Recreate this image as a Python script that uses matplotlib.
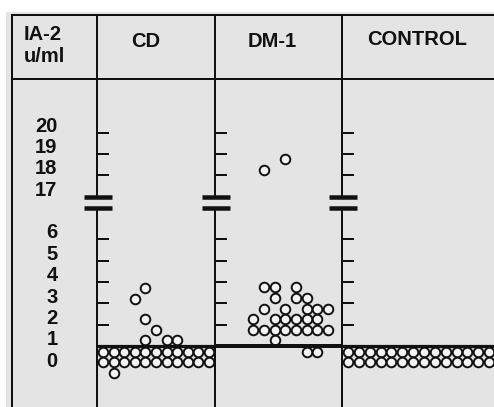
import numpy as np
import matplotlib
matplotlib.use("Agg")
import matplotlib.pyplot as plt
from matplotlib import transforms
from matplotlib.patches import Rectangle
from matplotlib.ticker import NullLocator

plt.rcParams['font.family'] = ['Liberation Sans', 'DejaVu Sans']

# ---------------- data ----------------
groups = ["CD", "DM-1", "CONTROL"]
tick_values = [20, 19, 18, 17, 6, 5, 4, 3, 2, 1, 0]
tick_labels = ["20", "19", "18", "17", "6", "5", "4", "3", "2", "1", "0"]
tick_marks = [2, 3, 4, 5, 6, 18, 19, 20]
threshold = 1.0

# IA-2 values (u/ml) and stacking column of each dot
cd_values = [3.72, 3.20, 2.26, 1.75, 1.28, 1.28, 1.28,
             0.72, 0.72, 0.72, 0.72, 0.72, 0.72, 0.72, 0.72, 0.72, 0.72, 0.72,
             0.25, 0.25, 0.25, 0.25, 0.25, 0.25, 0.25, 0.25, 0.25, 0.25, 0.25,
             -0.26]
cd_cols = [4, 3, 4, 5, 4, 6, 7,
           0, 1, 2, 3, 4, 5, 6, 7, 8, 9, 10,
           0, 1, 2, 3, 4, 5, 6, 7, 8, 9, 10,
           1]

dm_values = [18.76, 18.24,
             3.76, 3.76, 3.76,
             3.25, 3.25, 3.25,
             2.73, 2.73, 2.73, 2.73, 2.73,
             2.26, 2.26, 2.26, 2.26, 2.26, 2.26,
             1.75, 1.75, 1.75, 1.75, 1.75, 1.75, 1.75, 1.75,
             1.28,
             0.72, 0.72]
dm_cols = [6, 4,
           4, 5, 7,
           5, 7, 8,
           4, 6, 8, 9, 10,
           3, 5, 6, 7, 8, 9,
           3, 4, 5, 6, 7, 8, 9, 10,
           5,
           8, 9]

ctrl_values = [0.72, 0.72, 0.72, 0.72, 0.72, 0.72, 0.72,
               0.72, 0.72, 0.72, 0.72, 0.72, 0.72, 0.72,
               0.25, 0.25, 0.25, 0.25, 0.25, 0.25, 0.25,
               0.25, 0.25, 0.25, 0.25, 0.25, 0.25, 0.25]
ctrl_cols = [0, 1, 2, 3, 4, 5, 6, 7, 8, 9, 10, 11, 12, 13,
             0, 1, 2, 3, 4, 5, 6, 7, 8, 9, 10, 11, 12, 13]

series = [(cd_values, cd_cols), (dm_values, dm_cols), (ctrl_values, ctrl_cols)]

# ---------------- style / layout ----------------
W, H = 494, 407
BG = '#e4e4e4'
INK = '#111111'
DOTFACE = '#f3f3f3'


def pt(px):
    return px * 0.72


# broken axis: 0..7 linear, 17..23 linear, gap compressed
def fwd(v):
    v = np.asarray(v, dtype=float)
    return np.where(v <= 7, v, np.where(v >= 17, v - 9, 7 + (v - 7) / 10.0))


def inv(y):
    y = np.asarray(y, dtype=float)
    return np.where(y <= 7, y, np.where(y >= 8, y + 9, 7 + (y - 7) * 10.0))


fig = plt.figure(figsize=(W / 100, H / 100), dpi=100)
fig.patch.set_facecolor('white')

ax0 = fig.add_axes([0, 0, 1, 1], zorder=0)
ax0.set_xlim(0, W)
ax0.set_ylim(H, 0)
ax0.axis('off')
ax0.add_patch(Rectangle((6, 12), W - 6, H - 12, fc=BG, ec='none'))

lw = pt(2.0)
ax0.plot([12, 12], [15, H], color=INK, lw=lw)
ax0.plot([12, W], [15, 15], color=INK, lw=lw)
ax0.plot([12, W], [79, 79], color=INK, lw=lw)

axis_x = [97, 215, 342]
for x in axis_x:
    ax0.plot([x, x], [15, 197], color=INK, lw=lw, solid_capstyle='butt')
    ax0.plot([x, x], [208, H], color=INK, lw=lw, solid_capstyle='butt')
    for yb in (197, 208):
        ax0.plot([x - 13, x + 15], [yb, yb], color=INK, lw=pt(4.5),
                 solid_capstyle='butt')

# header texts
fkw = dict(fontsize=14.5, fontweight='bold', color=INK, va='baseline')
ax0.text(24, 40.5, "IA-2", ha='left', **fkw)
ax0.text(24, 62, "u/ml", ha='left', **fkw)
header_x = [145.5, 272.5, 417]
header_y = [47, 47, 45]
for name, hx, hy in zip(groups, header_x, header_y):
    ax0.text(hx, hy, name, ha='center', **fkw)

# data panels
panels = [(97, 215, 10.6), (215, 342, 10.7), (342, W, 10.85)]
base_lw = [pt(3.2), pt(4.0), pt(3.2)]
axes = []
for (l, r, s), (vals, cols), blw in zip(panels, series, base_lw):
    ax = fig.add_axes([l / W, 0, (r - l) / W, (H - 79) / H], zorder=1)
    ax.set_facecolor('none')
    for sp in ax.spines.values():
        sp.set_visible(False)
    ax.set_yscale('function', functions=(fwd, inv))
    ax.set_ylim(-1.857, 22.506)
    ax.set_xlim(-6 / s, (r - l - 6) / s)
    ax.set_yticks(tick_marks)
    ax.yaxis.set_minor_locator(NullLocator())
    ax.set_xticks([])
    ax.tick_params(axis='y', direction='in', length=pt(12), width=pt(2),
                   color=INK, labelleft=False, left=True)
    ax.plot(cols, vals, 'o', ls='none', ms=6.9, mfc=DOTFACE, mec=INK,
            mew=1.4, zorder=3)
    ax.axhline(threshold, color=INK, lw=blw, zorder=4)
    axes.append(ax)

# y labels in the left column
trans = transforms.blended_transform_factory(ax0.transData, axes[0].transData) + \
    transforms.ScaledTranslation(0, 6.3 / 100, fig.dpi_scale_trans)
for v, lab in zip(tick_values, tick_labels):
    ax0.text(57.5, v, lab, transform=trans, ha='right', va='center',
             fontsize=14.5, fontweight='bold', color=INK)

fig.savefig("out.png", dpi=100, facecolor=fig.get_facecolor())
